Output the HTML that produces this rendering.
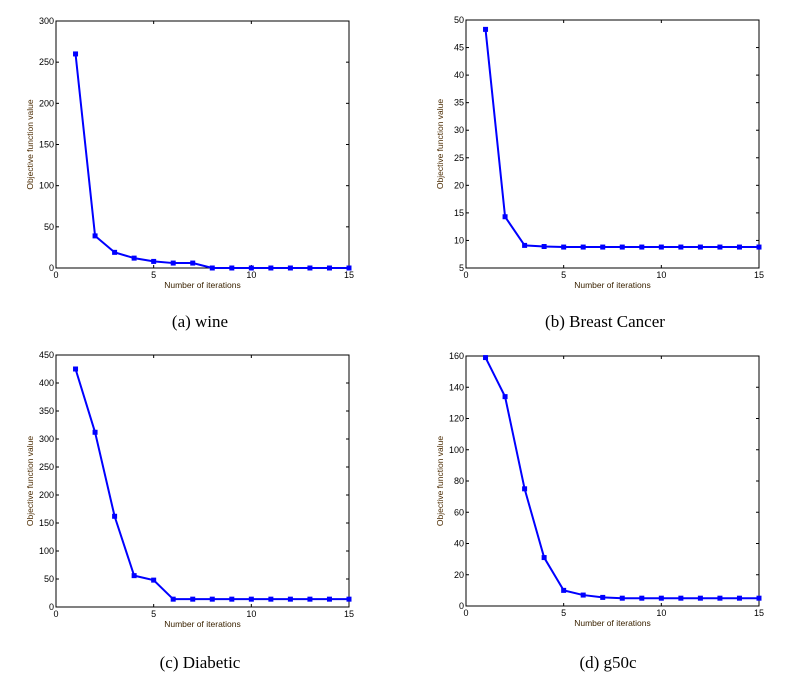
<!DOCTYPE html>
<html><head><meta charset="utf-8"><style>
body{margin:0;background:#fff;width:791px;height:684px;overflow:hidden}
svg{display:block}
</style></head><body>
<svg id="fig" width="791" height="684" xmlns="http://www.w3.org/2000/svg">
<text x="200" y="327" font-family="Liberation Serif, serif" font-size="17" text-anchor="middle">(a) wine</text>
<text x="605" y="327" font-family="Liberation Serif, serif" font-size="17" text-anchor="middle">(b) Breast Cancer</text>
<text x="200" y="668" font-family="Liberation Serif, serif" font-size="17" text-anchor="middle">(c) Diabetic</text>
<text x="608" y="668" font-family="Liberation Serif, serif" font-size="17" text-anchor="middle">(d) g50c</text>
</svg>
<script>
const iterations=[1,2,3,4,5,6,7,8,9,10,11,12,13,14,15];
const xTicks=[0,5,10,15];
const wineValues=[260,39,19,12,8,6,6,0,0,0,0,0,0,0,0];
const wineTicks=[0,50,100,150,200,250,300];
const breastValues=[48.3,14.3,9.1,8.9,8.8,8.8,8.8,8.8,8.8,8.8,8.8,8.8,8.8,8.8,8.8];
const breastTicks=[5,10,15,20,25,30,35,40,45,50];
const diabeticValues=[425,312,162,56,48,14,14,14,14,14,14,14,14,14,14];
const diabeticTicks=[0,50,100,150,200,250,300,350,400,450];
const g50cValues=[159,134,75,31,10,7,5.5,5,5,5,5,5,5,5,5];
const g50cTicks=[0,20,40,60,80,100,120,140,160];

const NS="http://www.w3.org/2000/svg";
const svg=document.getElementById('fig');
function mk(tag,attrs,parent){const e=document.createElementNS(NS,tag);for(const k in attrs)e.setAttribute(k,attrs[k]);parent.appendChild(e);return e;}

function panel(id,box,vals,yt){
  const g=mk('g',{},svg);
  
  
  const [x0,x1,y0,y1]=box;
  const ymin=yt[0],ymax=yt[yt.length-1];
  const sx=v=>x0+(v-xTicks[0])/(xTicks[xTicks.length-1]-xTicks[0])*(x1-x0);
  const sy=v=>y1-(v-ymin)/(ymax-ymin)*(y1-y0);
  const frame=mk('rect',{x:x0,y:y0,width:x1-x0,height:y1-y0,fill:'none',stroke:'#000','stroke-width':1},g);
  
  
  xTicks.forEach(t=>{
    const x=sx(t);
    mk('line',{x1:x,x2:x,y1:y1,y2:y1-3,stroke:'#000'},g);
    mk('line',{x1:x,x2:x,y1:y0,y2:y0+3,stroke:'#000'},g);
    const tx=mk('text',{x:x,y:y1+10,'font-family':'Liberation Sans, sans-serif','font-size':9,'text-anchor':'middle'},g);
    tx.textContent=t;
    
    
  });
  yt.forEach(t=>{
    const y=sy(t);
    mk('line',{x1:x0,x2:x0+3,y1:y,y2:y,stroke:'#000'},g);
    mk('line',{x1:x1,x2:x1-3,y1:y,y2:y,stroke:'#000'},g);
    const tx=mk('text',{x:x0-2,y:y+3,'font-family':'Liberation Sans, sans-serif','font-size':9,'text-anchor':'end'},g);
    tx.textContent=t;
    
    
  });
  const xl=mk('text',{x:(x0+x1)/2,y:y1+20,'font-family':'Liberation Sans, sans-serif','font-size':8.5,'text-anchor':'middle',fill:'#3a2200'},g);
  xl.textContent='Number of iterations';
  
  
  const cy=(y0+y1)/2;
  const yl=mk('text',{x:x0-23,y:cy,'font-family':'Liberation Sans, sans-serif','font-size':8.5,'text-anchor':'middle',fill:'#4a2a00',transform:`rotate(-90 ${x0-23} ${cy})`},g);
  yl.textContent='Objective function value';
  
  
  const pts=iterations.map((it,i)=>sx(it)+','+sy(vals[i])).join(' ');
  const pl=mk('polyline',{points:pts,fill:'none',stroke:'#0000ff','stroke-width':2},g);
  
  
  iterations.forEach((it,i)=>{
    const m=mk('rect',{x:sx(it)-2.5,y:sy(vals[i])-2.5,width:5,height:5,fill:'#0000ff'},g);
    
    
  });
}
panel('wine',[56,349,21,268],wineValues,wineTicks);
panel('breast-cancer',[466,759,20,268],breastValues,breastTicks);
panel('diabetic',[56,349,355,607],diabeticValues,diabeticTicks);
panel('g50c',[466,759,356,606],g50cValues,g50cTicks);
</script>
</body></html>
